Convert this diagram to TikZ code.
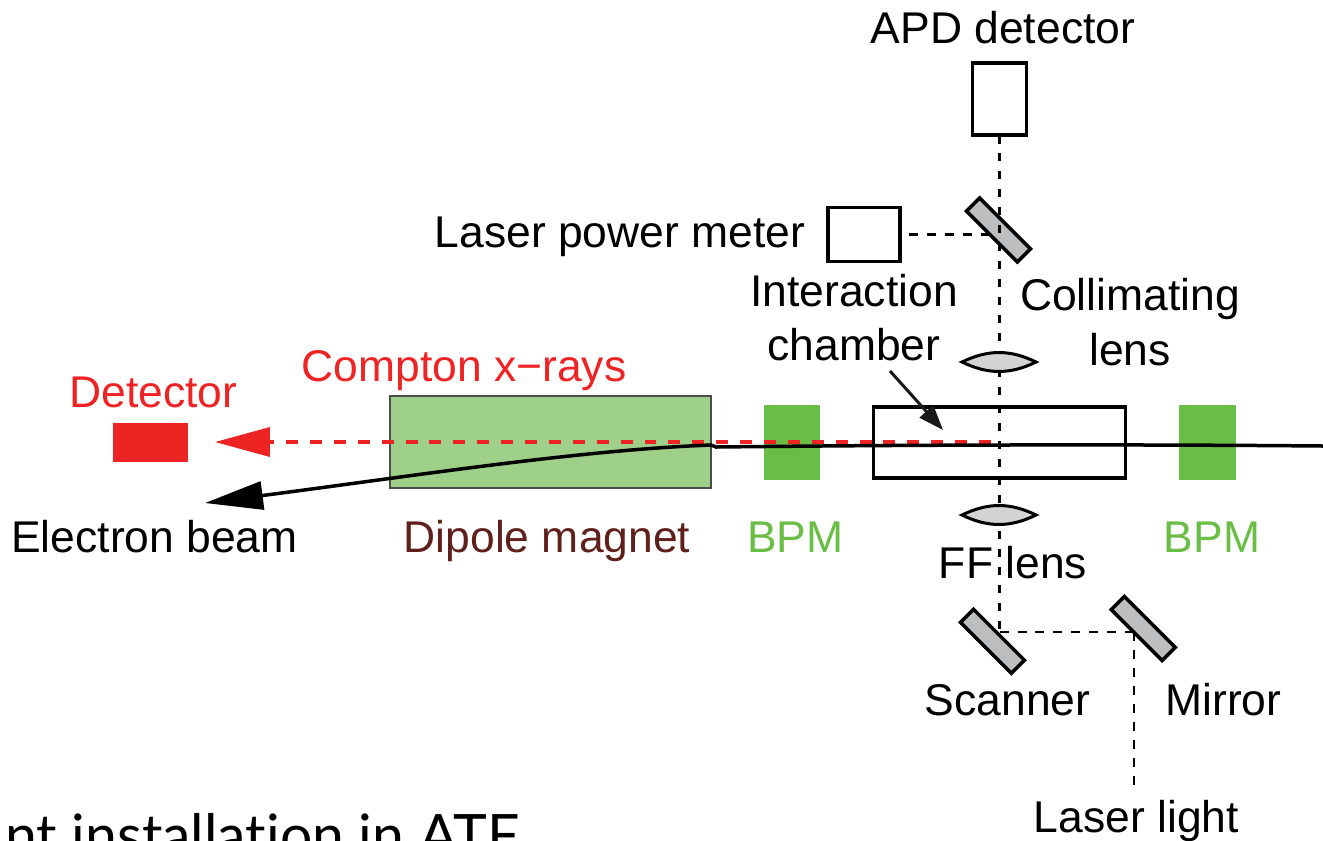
\documentclass[tikz,border=0pt]{standalone}
\usepackage{fontspec}
\setmainfont{Liberation Sans}
\newfontfamily\captionfont[Ligatures=CommonOff]{Lato}
\usetikzlibrary{arrows.meta}

\definecolor{comptonred}{HTML}{EE2324}
\definecolor{bpmgreen}{HTML}{6ABD45}
\definecolor{dipolegreen}{HTML}{9FD08A}
\definecolor{dipolebrown}{HTML}{5F1F1A}
\definecolor{mirrorgray}{HTML}{BCBEC0}
\definecolor{lensgray}{HTML}{D1D3D4}

\tikzset{
    label/.style={inner sep=0, anchor=base, font=\fontsize{25.3}{30}\selectfont},
    box/.style={draw, line width=0.07cm, inner sep=0, outer sep=0, minimum width=#1},
    mirror/.style={draw, line width=0.07cm, fill=mirrorgray, inner sep=0, outer sep=0,
        rotate=-45, minimum width=1.44cm, minimum height=0.37cm},
    solid block/.style={inner sep=0, outer sep=0, fill=#1},
    lens/.style={draw, line width=0.06cm, fill=lensgray},
    beam/.style={line width=0.07cm, dash pattern=on 0.17cm off 0.19cm},
    thin beam/.style={line width=0.05cm, dash pattern=on 0.18cm off 0.18cm},
}

\begin{document}
\begin{tikzpicture}[x=0.02cm, y=-0.02cm]
    \useasboundingbox (0,0) rectangle (1323,840);

    % Beam line elements
    \node[solid block=comptonred, minimum width=1.5cm, minimum height=0.78cm] (detector) at (150.5,442.5) {};
    \node[solid block=dipolegreen, draw=black!70, line width=0.03cm, minimum width=6.42cm, minimum height=1.84cm] (dipole) at (550.5,442) {};
    \node[solid block=bpmgreen, minimum width=1.12cm, minimum height=1.5cm] (bpmleft) at (792,442.5) {};
    \node[solid block=bpmgreen, minimum width=1.14cm, minimum height=1.5cm] (bpmright) at (1207.5,442.5) {};
    \node[box=5.04cm, minimum height=1.42cm] (chamber) at (999.5,442.5) {};

    % Boxes and mirrors on the laser path
    \node[box=1.08cm, minimum height=1.44cm] (apd) at (999.5,99) {};
    \node[box=1.44cm, minimum height=1.08cm] (meter) at (864,234.5) {};
    \node[mirror] (splitter) at (998.5,230) {};
    \node[mirror] (scanner) at (992.5,641.3) {};
    \node[mirror] (turning) at (1143.3,628.5) {};

    % Free ends of the connectors
    \coordinate (scanpoint) at (999.5,632);
    \coordinate (turnpoint) at (1134,632);
    \coordinate (laserin) at (1134,786);
    \coordinate (meterout) at (909,234.5);
    \coordinate (splitpoint) at (992,234.5);
    \coordinate (xraystart) at (991,442);
    \coordinate (xraytip) at (215,442);
    \coordinate (beamin) at (1323,446);
    \coordinate (beamkink) at (716,447);
    \coordinate (beamtip) at (205,503);
    \coordinate (chamberfrom) at (890,371);
    \coordinate (chamberto) at (943,430);

    % Laser path
    \draw[beam] (apd.south) -- (scanpoint);
    \draw[thin beam] (meterout) -- (splitpoint);
    \draw[thin beam] (scanpoint) -- (turnpoint);
    \draw[thin beam] (turnpoint) -- (laserin);

    % Lenses
    \draw[lens] (962,362) to[bend left=26] (1036,362) to[bend left=26] cycle;
    \draw[lens] (962,515) to[bend left=26] (1036,515) to[bend left=26] cycle;

    % Compton x-rays and electron beam
    \draw[comptonred, line width=0.07cm, dash pattern=on 0.239cm off 0.239cm,
          -{Triangle[length=1.1cm, width=0.58cm]}] (xraystart) -- (xraytip);
    \draw[line width=0.07cm, -{Triangle[length=1.16cm, width=0.56cm]}]
        (beamin) .. controls (1100,444) and (900,445) .. (beamkink) -- (711,445)
        .. controls (580,450) and (420,475) .. (beamtip);
    \draw[black!90, line width=0.06cm, -{Triangle[length=0.5cm, width=0.36cm]}] (chamberfrom) -- (chamberto);

    % Labels
    \node[label] (apdlabel) at (1003,43) {APD detector};
    \node[label] (meterlabel) at (620,247) {Laser power meter};
    \node[label] (interactionlabel) at (854,306) {Interaction};
    \node[label] (chamberlabel) at (854,360) {chamber};
    \node[label] (collimatinglabel) at (1130,310) {Collimating};
    \node[label] (lenslabel) at (1130,365) {lens};
    \node[label, text=comptonred] (comptonlabel) at (464,381) {Compton x\textminus rays};
    \node[label, text=comptonred] (detectorlabel) at (153.5,407) {Detector};
    \node[label] (electronlabel) at (154.5,552) {Electron beam};
    \node[label, text=dipolebrown] (dipolelabel) at (547,552) {Dipole magnet};
    \node[label, text=bpmgreen] (bpmleftlabel) at (795.5,552) {BPM};
    \node[label, text=bpmgreen] (bpmrightlabel) at (1212,552) {BPM};
    \node[label] (fflabel) at (1013,578) {FF lens};
    \node[label] (scannerlabel) at (1007.5,715) {Scanner};
    \node[label] (mirrorlabel) at (1223.5,715) {Mirror};
    \node[label] (laserlabel) at (1136.5,832) {Laser light};

    % Caption cut off by the picture edge
    \node[inner sep=0, anchor=base east, font=\captionfont\fontsize{32.5}{40}\selectfont] (caption) at (520,855) {nt installation in ATF};

\end{tikzpicture}
\end{document}
